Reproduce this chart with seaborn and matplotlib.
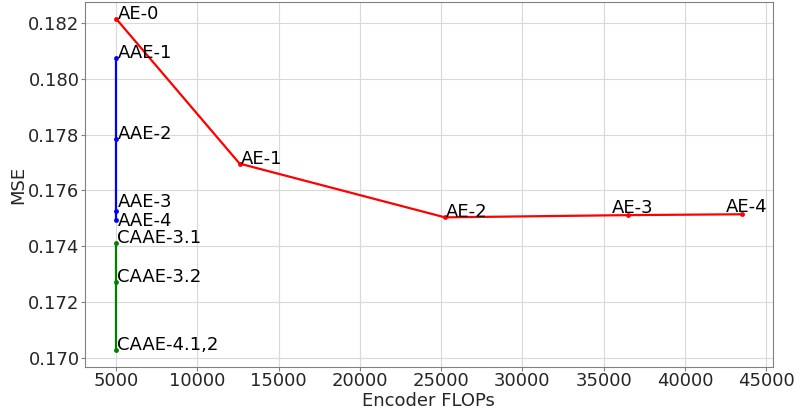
import matplotlib
matplotlib.use("Agg")
import matplotlib.pyplot as plt
import seaborn as sns
import pandas as pd

# Data
ae_labels = ["AE-0", "AE-1", "AE-2", "AE-3", "AE-4"]
ae_flops = [5000, 12600, 25230, 36500, 43480]
ae_mse = [0.18214, 0.17696, 0.17504, 0.17512, 0.17515]

aae_labels = ["AAE-1", "AAE-2", "AAE-3", "AAE-4"]
aae_flops = [5000, 5000, 5000, 5000]
aae_mse = [0.18073, 0.17783, 0.17525, 0.17494]

caae_labels = ["CAAE-3.1", "CAAE-3.2", "CAAE-4.1,2"]
caae_flops = [5000, 5000, 5000]
caae_mse = [0.17412, 0.17273, 0.17029]

sns.set_style("whitegrid", {"axes.edgecolor": "0.5", "grid.color": "0.85",
                            "xtick.bottom": True, "ytick.left": True})
plt.rcParams["font.family"] = ["DejaVu Sans"]

fig, ax = plt.subplots(figsize=(8, 4.15), dpi=100)

groups = [
    (ae_labels, ae_flops, ae_mse, "red"),
    (aae_labels, aae_flops, aae_mse, "blue"),
    (caae_labels, caae_flops, caae_mse, "green"),
]
offsets = {"AAE-3": (1, 3), "AAE-4": (1, -4), "AE-3": (-11.5, 1.5),
           "AE-4": (-11.5, 1.5)}
for labels, xs, ys, color in groups:
    df = pd.DataFrame({"x": xs, "y": ys})
    sns.lineplot(data=df, x="x", y="y", ax=ax, color=color, linewidth=1.6,
                 marker="o", markersize=3.5, markeredgewidth=0, sort=False,
                 estimator=None)
    for lab, x, y in zip(labels, xs, ys):
        dx, dy = offsets.get(lab, (1, 0))
        ax.annotate(lab, (x, y), xytext=(dx, dy), textcoords="offset points",
                    fontsize=13, color="black", va="baseline", ha="left")

ax.set_xlabel("Encoder FLOPs", fontsize=13, labelpad=1)
ax.set_ylabel("MSE", fontsize=13, labelpad=1)
ax.set_xticks([5000, 10000, 15000, 20000, 25000, 30000, 35000, 40000, 45000])
ax.set_yticks([0.170, 0.172, 0.174, 0.176, 0.178, 0.180, 0.182])
ax.tick_params(labelsize=13, length=3, pad=0.8, color="0.5")
ax.yaxis.set_major_formatter(matplotlib.ticker.FormatStrFormatter("%.3f"))

fig.subplots_adjust(left=0.106, right=0.966, top=0.995, bottom=0.116)
fig.savefig("out.png", dpi=100)
